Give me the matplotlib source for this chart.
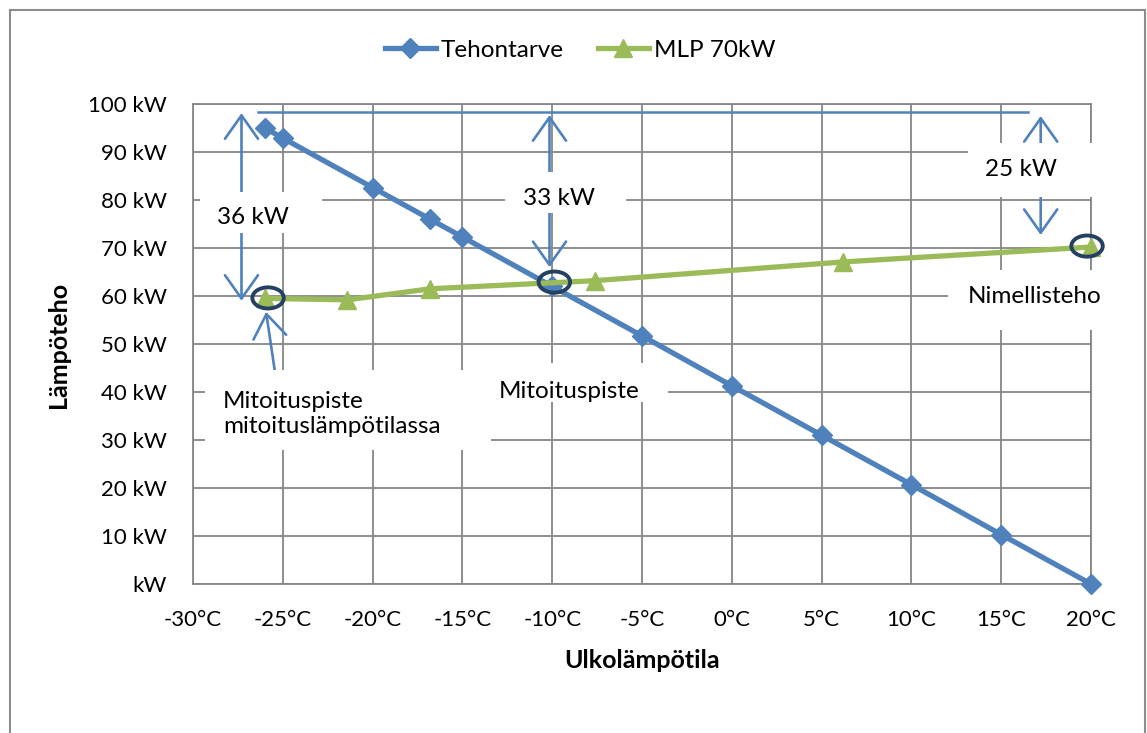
import matplotlib.pyplot as plt
from matplotlib.patches import Rectangle, Ellipse
from matplotlib.lines import Line2D

plt.rcParams['font.family'] = ['Lato', 'DejaVu Sans']
plt.rcParams['font.size'] = 16

# heat demand vs. outdoor temperature
temp_demand = [-26, -25, -20, -16.8, -15, -10, -5, 0, 5, 10, 15, 20]
demand_kw = [95.0, 92.9, 82.6, 76.0, 72.3, 62.0, 51.7, 41.3, 31.0, 20.7, 10.3, 0.0]

# heat pump output (MLP 70kW)
temp_mlp = [-26, -21.4, -16.8, -7.6, 6.2, 20]
mlp_kw = [59.5, 59.2, 61.5, 63.2, 67.1, 70.2]

xticks = list(range(-30, 25, 5))
yticks = list(range(0, 110, 10))
xtick_labels = ['%d°C' % t for t in xticks]
ytick_labels = ['kW' if v == 0 else '%d kW' % v for v in yticks]

blue = '#4F81BD'
green = '#9BBB59'
navy = '#254061'
gridc = '#868686'
txt_size = 17.5

fig = plt.figure(figsize=(11.47, 7.33), dpi=100)
ax = fig.add_axes([193/1147, 1-584/733, (1091-193)/1147, (584-104)/733])

ax.set_xlim(-30, 20)
ax.set_ylim(0, 100)
ax.set_xticks(xticks)
ax.set_xticklabels(xtick_labels)
ax.set_yticks(yticks)
ax.set_yticklabels(ytick_labels)
ax.tick_params(length=0, labelsize=16)
ax.tick_params(axis='y', pad=19)
ax.tick_params(axis='x', pad=19)
ax.grid(True, color=gridc, lw=1.3, zorder=0)
ax.set_axisbelow(True)
for s in ax.spines.values():
    s.set_color(gridc)
    s.set_linewidth(1.3)

ax.plot(temp_demand, demand_kw, color=blue, lw=3.8, marker='D', ms=10,
        label='Tehontarve', zorder=5, clip_on=False)
ax.plot(temp_mlp, mlp_kw, color=green, lw=3.8, marker='^', ms=13,
        label='MLP 70kW', zorder=5, clip_on=False)

# reference line at the top and the dimension arrows
ax.plot([-26.4, 16.5], [98.3, 98.3], color=blue, lw=1.8, zorder=2, clip_on=False)
arrow_style = '<->,head_length=1.2,head_width=0.85'
for x, y0, y1 in [(-27.3, 98.1, 59.0), (-10.15, 97.7, 66.0), (17.2, 97.5, 72.7)]:
    ax.annotate('', xy=(x, y1), xytext=(x, y0),
                arrowprops=dict(arrowstyle=arrow_style, color=blue, lw=1.9,
                                shrinkA=0, shrinkB=0, mutation_scale=14),
                zorder=2)
ax.annotate('', xy=(-25.93, 56.7), xytext=(-25.43, 44.0),
            arrowprops=dict(arrowstyle='->,head_length=1.2,head_width=0.85',
                            color=blue, lw=1.9, shrinkA=0, shrinkB=0,
                            mutation_scale=14),
            zorder=2)

# white label boxes
boxes = [
    (-29.61, 73.1, 6.8, 8.6),
    (-12.61, 77.3, 6.7, 8.5),
    (13.14, 80.6, 7.3, 11.3),
    (12.03, 52.9, 8.4, 12.5),
    (-29.33, 27.9, 15.9, 16.7),
    (-13.56, 37.9, 10.0, 8.1),
]
for bx, by, bw, bh in boxes:
    ax.add_patch(Rectangle((bx, by), bw, bh, facecolor='white', edgecolor='none',
                           zorder=3, clip_on=False))

ax.text(-26.65, 76.4, '36 kW', ha='center', va='center', zorder=4, fontsize=txt_size)
ax.text(-9.6, 80.4, '33 kW', ha='center', va='center', zorder=4, fontsize=txt_size)
ax.text(16.1, 86.4, '25 kW', ha='center', va='center', zorder=4, fontsize=txt_size)
ax.text(16.88, 59.9, 'Nimellisteho', ha='center', va='center', zorder=4,
        fontsize=txt_size)
ax.text(-28.33, 35.4, 'Mitoituspiste\nmitoituslämpötilassa', ha='left',
        va='center', zorder=4, linespacing=1.2, fontsize=txt_size)
ax.text(-9.04, 40.2, 'Mitoituspiste', ha='center', va='center', zorder=4,
        fontsize=txt_size)

# rings around the design and nominal points
for cx, cy in [(-25.82, 59.6), (-9.88, 62.9), (19.78, 70.4)]:
    ax.add_patch(Ellipse((cx, cy), 1.75, 4.4, facecolor='none', edgecolor=navy,
                         lw=2.8, zorder=6, clip_on=False))

fig.text(59/1147, 1-345/733, 'Lämpöteho', rotation=90, ha='center', va='center',
         fontweight='bold', fontsize=18)
fig.text(642/1147, 1-660/733, 'Ulkolämpötila', ha='center', va='center',
         fontweight='bold', fontsize=18)

fig.legend(loc='center', bbox_to_anchor=(580/1147, 1-50/733), ncol=2,
           frameon=False, handlelength=2.1, handletextpad=0.2, columnspacing=1.4,
           fontsize=txt_size)

# outer chart border
bc = '#8C8C8C'
fig.add_artist(Line2D([10/1147, 10/1147], [0, 1-10/733], color=bc, lw=1.5))
fig.add_artist(Line2D([10/1147, 1145/1147], [1-10/733, 1-10/733], color=bc, lw=1.5))
fig.add_artist(Line2D([1145/1147, 1145/1147], [0, 1-10/733], color=bc, lw=1.5))

fig.savefig('out.png', dpi=100)
